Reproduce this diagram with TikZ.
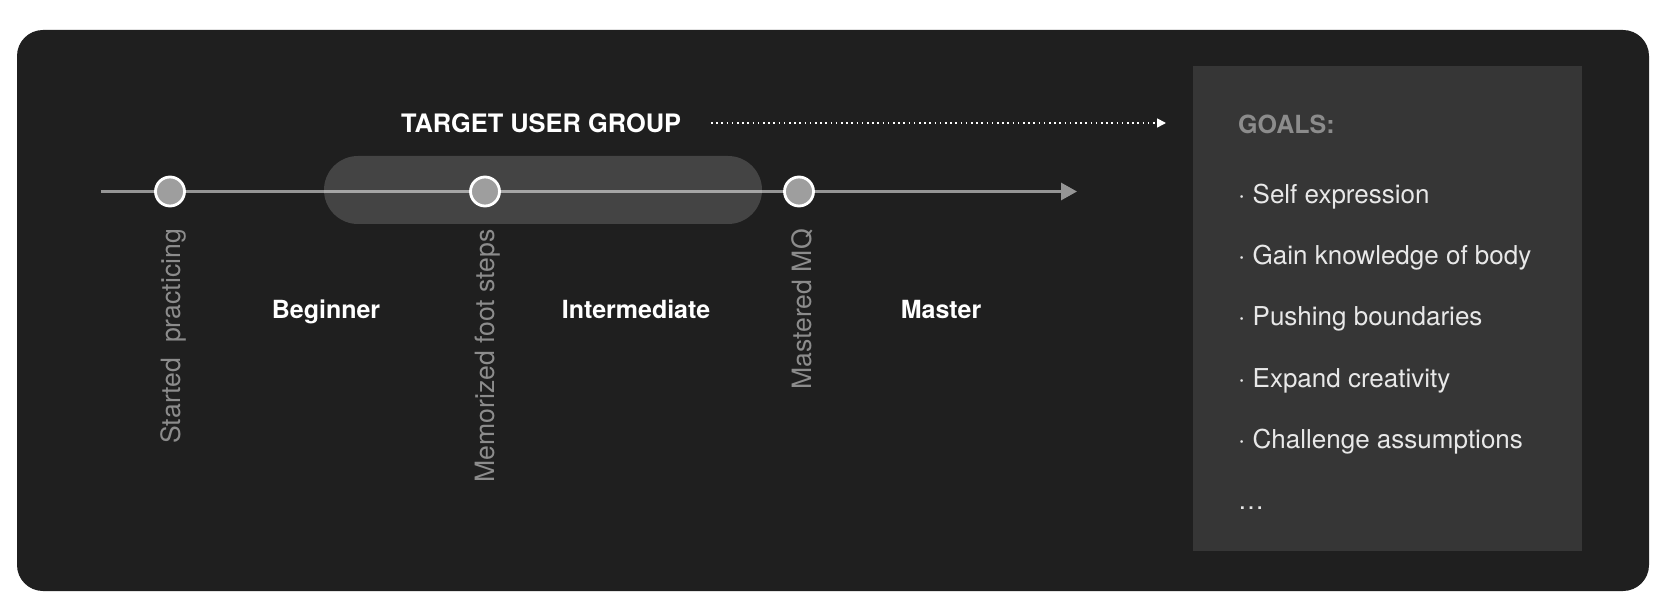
\documentclass[tikz,border=0pt]{standalone}
\usepackage{fontspec}
\setmainfont{TeX Gyre Heros}
\usetikzlibrary{arrows.meta}
\pgfdeclarelayer{base}
\pgfdeclarelayer{back}
\pgfsetlayers{base,back,main}
\definecolor{bgdark}{HTML}{1F1F1F}
\definecolor{goalbg}{HTML}{363636}
\definecolor{linec}{HTML}{959595}
\definecolor{dotfill}{HTML}{9E9E9E}
\definecolor{greytext}{HTML}{8C8C8C}
\definecolor{itemtext}{HTML}{E8E8E8}
\begin{document}
\begin{tikzpicture}[x=1pt,y=-1pt,
  milestone/.style={circle, draw=white, line width=2.8pt, fill=dotfill, minimum size=29pt, inner sep=0pt},
  timeline/.style={draw=linec, line width=3pt},
  dotarrow/.style={draw=white, line width=1.6pt, dash pattern=on 1.6pt off 3.6pt, -{Triangle[length=9pt,width=9pt]}},
  titletext/.style={text=white, font=\fontsize{25.4}{30}\selectfont\bfseries, inner sep=0pt},
  stagetext/.style={text=white, font=\fontsize{25}{30}\selectfont\bfseries, inner sep=0pt, anchor=base},
  vlabel/.style={text=greytext, font=\fontsize{26.6}{30}\selectfont, inner sep=0pt, rotate=90, anchor=east},
  goalhead/.style={text=greytext, font=\fontsize{25}{30}\selectfont\bfseries, inner sep=0pt, anchor=base west},
  goalitem/.style={text=itemtext, font=\fontsize{26}{30}\selectfont, inner sep=0pt, anchor=base west}
]
\useasboundingbox (0,0) rectangle (1668,612);
\begin{pgfonlayer}{base}
\fill[white] (0,0) rectangle (1668,612);
\fill[bgdark, rounded corners=26pt] (17,30) rectangle (1649,591);
\fill[goalbg] (1193,66) rectangle (1582,551);
\end{pgfonlayer}

% timeline
\coordinate (ls) at (101,191.5);
\coordinate (le) at (1077,191.5);
\node[milestone] (m1) at (170,191.5) {};
\node[milestone] (m2) at (485,191.5) {};
\node[milestone] (m3) at (799,191.5) {};
\begin{pgfonlayer}{back}
\draw[timeline] (ls) -- (m1);
\draw[timeline] (m1) -- (m2);
\draw[timeline] (m2) -- (m3);
\draw[timeline, -{Triangle[length=16pt,width=17pt]}] (m3) -- (le);
\fill[white, fill opacity=0.17, rounded corners=34pt] (324,156) rectangle (762,224);
\end{pgfonlayer}

% title and dotted arrow
\node[titletext, anchor=west] (tug) at (401,123) {TARGET USER GROUP};
\coordinate (ds) at (711,123);
\coordinate (de) at (1166,123);
\draw[dotarrow] (ds) -- (de);

% vertical milestone labels
\node[vlabel] (l1) at (173,229) {Started\ \ practicing};
\node[vlabel] (l2) at (488,229) {Memorized foot steps};
\node[vlabel] (l3) at (802,229) {Mastered MQ};

% stages
\node[stagetext] (s1) at (326,319) {Beginner};
\node[stagetext] (s2) at (636,319) {Intermediate};
\node[stagetext] (s3) at (941,319) {Master};

% goals
\node[goalhead] (gh) at (1238,134) {GOALS:};
\node[goalitem] (g1) at (1238,204) {· Self expression};
\node[goalitem] (g2) at (1238,265) {· Gain knowledge of body};
\node[goalitem] (g3) at (1238,326) {· Pushing boundaries};
\node[goalitem] (g4) at (1238,387) {· Expand creativity};
\node[goalitem] (g5) at (1238,448) {· Challenge assumptions};
\node[goalitem] (g6) at (1238,509) {…};
\end{tikzpicture}
\end{document}
